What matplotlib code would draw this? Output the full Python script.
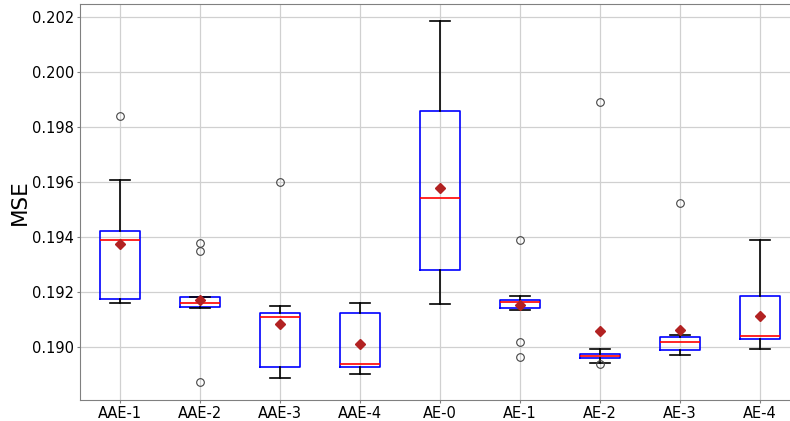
import matplotlib.pyplot as plt

labels = ['AAE-1', 'AAE-2', 'AAE-3', 'AAE-4', 'AE-0', 'AE-1', 'AE-2', 'AE-3', 'AE-4']

whislo = [0.19162, 0.19144, 0.18890, 0.18902, 0.19157, 0.19136, 0.18943, 0.18971, 0.18993]
q1 = [0.19174, 0.19146, 0.18927, 0.18927, 0.19282, 0.19144, 0.18962, 0.18990, 0.19029]
med = [0.19391, 0.19162, 0.19109, 0.18940, 0.19543, 0.19165, 0.18969, 0.19020, 0.19041]
q3 = [0.19422, 0.19184, 0.19123, 0.19123, 0.19859, 0.19173, 0.18977, 0.19036, 0.19186]
whishi = [0.19608, 0.19184, 0.19150, 0.19161, 0.20183, 0.19187, 0.18994, 0.19046, 0.19389]
means = [0.19374, 0.19172, 0.19086, 0.19011, 0.19579, 0.19153, 0.19058, 0.19062, 0.19115]
fliers = [
    [0.19841],
    [0.19380, 0.19348, 0.18873],
    [0.19599],
    [],
    [],
    [0.19391, 0.19018, 0.18965],
    [0.19891, 0.18939],
    [0.19525],
    [],
]

stats = []
for i, lab in enumerate(labels):
    stats.append(dict(label=lab, whislo=whislo[i], q1=q1[i], med=med[i],
                      q3=q3[i], whishi=whishi[i], mean=means[i], fliers=fliers[i]))

fig = plt.figure(figsize=(7.9, 4.21), dpi=100)
ax = fig.add_axes([0.1009, 0.0499, 0.9114, 0.9406])

ax.bxp(stats, showmeans=True,
       boxprops=dict(color='blue', linewidth=1.2),
       medianprops=dict(color='red', linewidth=1.2),
       whiskerprops=dict(color='black', linewidth=1.2),
       capprops=dict(color='black', linewidth=1.2),
       flierprops=dict(marker='o', markerfacecolor='none', markeredgecolor='#444444',
                       markersize=5.5, markeredgewidth=0.8),
       meanprops=dict(marker='D', markerfacecolor='firebrick', markeredgecolor='firebrick',
                      markersize=5.5))

ax.set_xlim(0.5, 9.5)
ax.set_ylim(0.18809, 0.20246)
ax.set_yticks([0.190, 0.192, 0.194, 0.196, 0.198, 0.200, 0.202])
ax.yaxis.set_major_formatter(plt.FormatStrFormatter('%.3f'))
ax.set_ylabel('MSE', fontsize=15.5, va='center')
ax.yaxis.set_label_coords(-0.083, 0.5)
ax.tick_params(labelsize=10.5, color='#808080', length=2.5, pad=1.5)
ax.grid(True, color='#d0d0d0', linewidth=0.9)
ax.set_axisbelow(True)
for sp in ax.spines.values():
    sp.set_color('#808080')

fig.savefig('out.png', dpi=100)
